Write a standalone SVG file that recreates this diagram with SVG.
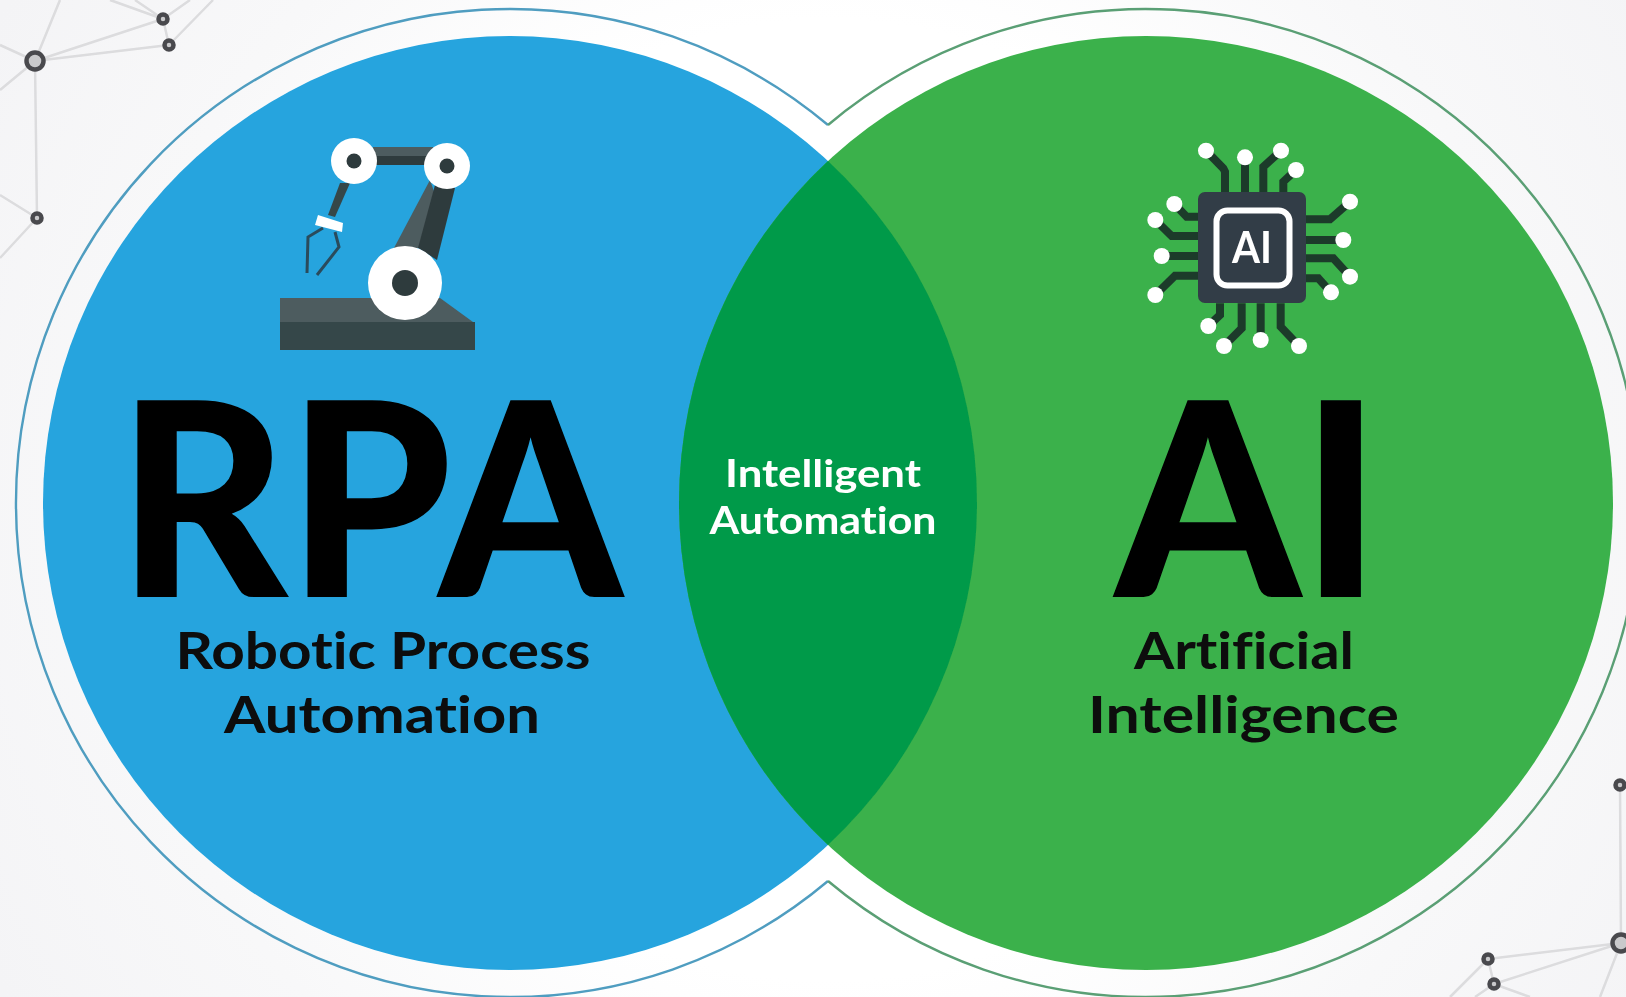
<svg xmlns="http://www.w3.org/2000/svg" width="1626" height="997" viewBox="0 0 1626 997">
<defs>
<radialGradient id="bg" gradientUnits="userSpaceOnUse" cx="828" cy="500" r="960">
<stop offset="0" stop-color="#ffffff"/><stop offset="0.5" stop-color="#ffffff"/><stop offset="0.75" stop-color="#f8f8f9"/><stop offset="1" stop-color="#f4f4f6"/>
</radialGradient>
<filter id="soft" x="0" y="0" width="100%" height="100%"><feGaussianBlur stdDeviation="0.7"/></filter>
</defs>
<style>
text{font-family:Lato,"Open Sans","Liberation Sans",sans-serif;text-anchor:middle;font-variant-ligatures:none}
.big{font-weight:900;font-size:271px;fill:#000}
.sub{font-weight:700;font-size:52px;fill:#0a0a0a}
.mid{font-weight:700;font-size:38px;fill:#fff}
.net{stroke:#dcdcde;stroke-width:2.5;fill:none}
.nd{fill:#c9c9cb;stroke:#4a4a4e;stroke-width:4.5}
.tr{stroke:#1f3a2c;stroke-width:24;fill:none}
.dot{fill:#fff}
.dk{fill:#2f3b3e}
.lt{fill:#4d5b5e}
.md{fill:#36464a}
</style>
<rect width="1626" height="997" fill="url(#bg)"/>
<g filter="url(#soft)">
<g id="network-top-left">
<path class="net" d="M35 61L163 19M35 61L169 45M35 61L37 218M35 61L60 0M35 61L0 45M35 61L0 90M163 19L110 0M163 19L135 0M163 19L190 0M169 45L213 0M163 19L169 45M37 218L0 195M37 218L0 258"/>
<circle class="nd" cx="35" cy="61" r="8.5"/><circle class="nd" cx="163" cy="19" r="4.5"/><circle class="nd" cx="169" cy="45" r="4.5"/><circle class="nd" cx="37" cy="218" r="4.5"/>
</g>
<g id="network-bottom-right">
<path class="net" d="M1620 785L1621 943M1621 943L1488 959M1621 943L1494 984M1621 943L1600 997M1488 959L1450 997M1488 959L1494 984M1494 984L1475 997M1494 984L1530 997"/>
<circle class="nd" cx="1621" cy="943" r="8.5"/><circle class="nd" cx="1620" cy="785" r="4.5"/><circle class="nd" cx="1488" cy="959" r="4.5"/><circle class="nd" cx="1494" cy="984" r="4.5"/>
</g>
<g id="connectors">
<path d="M828 125A494 494 0 1 0 828 881" fill="none" stroke="#4f9dc0" stroke-width="2.4"/>
<path d="M828 125A494 494 0 1 1 828 881" fill="none" stroke="#5a9f74" stroke-width="2.4"/>
</g>
<g id="rpa">
<circle cx="510" cy="503" r="467" fill="#25a4de"/>
</g>
<g id="ai">
<circle cx="1146" cy="503" r="467" fill="#3bb14b"/>
</g>
<g id="intelligent-automation">
<path d="M828 161A467 467 0 0 1 828 845A467 467 0 0 1 828 161Z" fill="#059a48"/>
<text class="mid" x="823" y="487" textLength="196" lengthAdjust="spacingAndGlyphs">Intelligent</text>
<text class="mid" x="823" y="534" textLength="227" lengthAdjust="spacingAndGlyphs">Automation</text>
</g>
<g id="robot-icon">
<path class="lt" d="M280 298H440L473 322H280Z"/>
<path class="md" d="M280 322H475V350H280Z"/>
<path class="lt" d="M373 147H433V156H373Z"/>
<path class="dk" d="M373 156H433L427 165H373Z"/>
<path class="lt" d="M430 180L394 248L420 248L437 200Z"/>
<path class="dk" d="M435 185L455 188L437 260L418 248Z"/>
<path class="md" d="M340 183H350L335 217L328 215Z"/>
<path d="M323 228L308 237L307 273M335 232L339 247L317 275" fill="none" stroke="#2c4b5c" stroke-width="3"/>
<path d="M318 215L343 223L342 232L315 225Z" fill="#fff"/>
<circle cx="405" cy="283" r="37" fill="#fff"/><circle class="dk" cx="405" cy="283" r="13"/>
<circle cx="354" cy="161" r="23" fill="#fff"/><circle class="dk" cx="354" cy="161" r="7.5"/>
<circle cx="447" cy="166" r="23" fill="#fff"/><circle class="dk" cx="447" cy="166" r="7.5"/>
</g>
<g id="chip-icon">
<g transform="translate(1130 130) scale(.33333)">
<path class="tr" d="M228 62L280 115L285 125V187M345 82V187M453 62L400 110V187M498 120L460 155V187M133 222L170 260H205M76 270L125 318H205M95 378H205M76 495L135 437H205M660 215L600 268H527M640 330H527M660 440L610 385H527M603 487L565 445H527M235 588L270 555V520M282 648L335 595V520M392 630V520M507 648L452 590V520"/>
<g class="dot">
<circle cx="228" cy="62" r="24"/><circle cx="345" cy="82" r="24"/><circle cx="453" cy="62" r="24"/><circle cx="498" cy="120" r="24"/>
<circle cx="133" cy="222" r="24"/><circle cx="76" cy="270" r="24"/><circle cx="95" cy="378" r="24"/><circle cx="76" cy="495" r="24"/>
<circle cx="660" cy="215" r="24"/><circle cx="640" cy="330" r="24"/><circle cx="660" cy="440" r="24"/><circle cx="603" cy="487" r="24"/>
<circle cx="235" cy="588" r="24"/><circle cx="282" cy="648" r="24"/><circle cx="392" cy="630" r="24"/><circle cx="507" cy="648" r="24"/>
</g>
</g>
<rect x="1198" y="192" width="108" height="111" rx="7" fill="#333c46"/>
<rect x="1216.5" y="210.5" width="73" height="75" rx="11" fill="#333c46" stroke="#fff" stroke-width="6"/>
<text x="1252" y="263" font-size="44" font-weight="700" fill="#fff" textLength="40" lengthAdjust="spacingAndGlyphs">AI</text>
</g>
<g id="labels">
<text class="big" x="370" y="597" textLength="505" lengthAdjust="spacingAndGlyphs">RPA</text>
<text class="big" x="1248" y="597" textLength="266" lengthAdjust="spacingAndGlyphs">AI</text>
<text class="sub" x="383" y="669" textLength="415" lengthAdjust="spacingAndGlyphs">Robotic Process</text>
<text class="sub" x="382" y="733" textLength="316" lengthAdjust="spacingAndGlyphs">Automation</text>
<text class="sub" x="1244" y="669" textLength="220" lengthAdjust="spacingAndGlyphs">Artificial</text>
<text class="sub" x="1243.5" y="733" textLength="311" lengthAdjust="spacingAndGlyphs">Intelligence</text>
</g>
</g>
</svg>
